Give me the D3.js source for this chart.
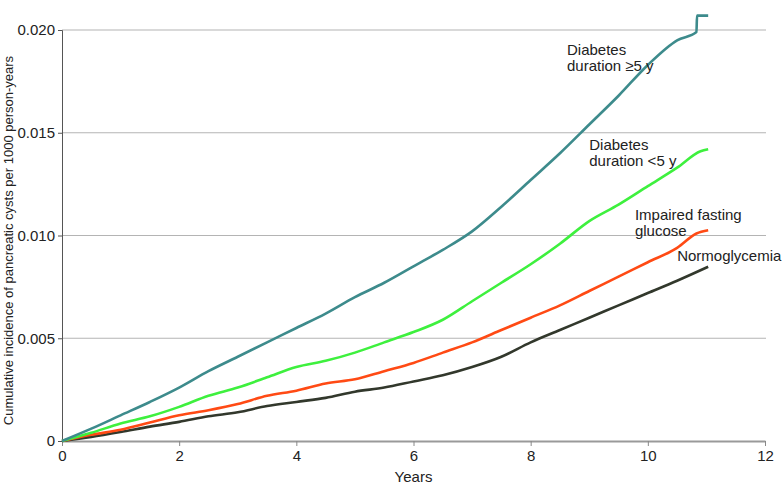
<!DOCTYPE html>
<html>
<head>
<meta charset="utf-8">
<script src="https://cdn.jsdelivr.net/npm/d3@7"></script>
<style>
  body { margin: 0; background: #fff; }
  text { font-family: "Liberation Sans Narrow", "Liberation Sans", Arial, sans-serif; fill: #222; }
</style>
</head>
<body>
<div class="container"></div>
<script>
// data (years vs cumulative incidence)
const years = [0, 0.5, 1, 1.5, 2, 2.5, 3, 3.5, 4, 4.5, 5, 5.5, 6, 6.5, 7, 7.5, 8, 8.5, 9, 9.5, 10, 10.5];

const dm5plus = [0, 0.0006, 0.00125, 0.0019, 0.0026, 0.0034, 0.0041, 0.0048, 0.0055, 0.0062, 0.0070, 0.0077, 0.0085, 0.0093, 0.0102, 0.0114, 0.0127, 0.0140, 0.0154, 0.0168, 0.0183, 0.0195];
const dm5plusTailYears = [10.83, 10.84, 11.03];
const dm5plusTail = [0.0199, 0.0207, 0.0207];

const dmUnder5 = [0, 0.0004, 0.00085, 0.0012, 0.00166, 0.0022, 0.0026, 0.0031, 0.0036, 0.0039, 0.0043, 0.0048, 0.0053, 0.0059, 0.0068, 0.0077, 0.0086, 0.0096, 0.0107, 0.0115, 0.0124, 0.0133];
const dmUnder5TailYears = [10.9, 11.03];
const dmUnder5Tail = [0.0141, 0.0142];

const ifg = [0, 0.0003, 0.00055, 0.0009, 0.00125, 0.0015, 0.0018, 0.0022, 0.00245, 0.0028, 0.0030, 0.0034, 0.0038, 0.0043, 0.0048, 0.0054, 0.0060, 0.0066, 0.0073, 0.0080, 0.0087, 0.0094];
const ifgTailYears = [10.83, 11.03];
const ifgTail = [0.0101, 0.01026];

const normo = [0, 0.0002, 0.00044, 0.0007, 0.00093, 0.0012, 0.0014, 0.0017, 0.0019, 0.0021, 0.0024, 0.0026, 0.0029, 0.0032, 0.0036, 0.0041, 0.0048, 0.0054, 0.0060, 0.0066, 0.0072, 0.0078];
const normoTailYears = [11.03];
const normoTail = [0.00848];

const xTicks = [0, 2, 4, 6, 8, 10, 12];
const yTicks = [0, 0.005, 0.010, 0.015, 0.020];

const seriesNames = ["Diabetes duration ≥5 y", "Diabetes duration <5 y", "Impaired fasting glucose", "Normoglycemia"];
const seriesColors = ["#3d8b8c", "#3ef03e", "#ff4a14", "#32382c"];

// label lines and where they sit (data units)
const labelLines = [["Diabetes", "duration ≥5 y"], ["Diabetes", "duration <5 y"], ["Impaired fasting", "glucose"], ["Normoglycemia"]];
const labelAt = [[8.62, 0.01878], [9.0, 0.01415], [9.78, 0.01077], [10.5, 0.00875]];

const margin = {top: 30, right: 18, bottom: 59, left: 62};
const width = 783 - margin.left - margin.right;
const height = 500 - margin.top - margin.bottom;

const svg = d3.select(".container")
  .append("svg")
    .attr("width", width + margin.left + margin.right)
    .attr("height", height + margin.top + margin.bottom)
  .append("g")
    .attr("transform", "translate(" + margin.left + "," + margin.top + ")");

const x = d3.scaleLinear().domain([0, 12]).range([0, width]);
const y = d3.scaleLinear().domain([0, 0.020]).range([height, 0]);

// gridlines
svg.append("g")
  .selectAll("line")
  .data(yTicks.filter(d => d > 0))
  .enter()
  .append("line")
    .attr("x1", 0)
    .attr("x2", width + 1)
    .attr("y1", d => y(d))
    .attr("y2", d => y(d))
    .attr("stroke", "#b4b4b4")
    .attr("stroke-width", 1.2);

// y axis
const yAxis = svg.append("g")
  .call(d3.axisLeft(y).tickValues(yTicks).tickFormat(d => d === 0 ? "0" : d3.format(".3f")(d)).tickSize(4).tickPadding(3));
yAxis.select(".domain").attr("stroke", "#555");
yAxis.selectAll(".tick line").attr("stroke", "#555");
yAxis.selectAll("text").style("font-size", "15px").attr("fill", "#222");

// x axis
const xAxis = svg.append("g")
  .attr("transform", "translate(0," + height + ")")
  .call(d3.axisBottom(x).tickValues(xTicks).tickSize(5).tickPadding(4).tickSizeOuter(0));
xAxis.select(".domain").attr("stroke", "#9a9a9a").attr("stroke-width", 2);
xAxis.selectAll(".tick line").attr("stroke", "#888");
xAxis.selectAll("text").style("font-size", "15px").attr("fill", "#222");

// axis titles
svg.append("text")
  .attr("x", width / 2)
  .attr("y", height + 41)
  .attr("text-anchor", "middle")
  .style("font-size", "15px")
  .text("Years");

svg.append("text")
  .attr("transform", "translate(" + (-49) + "," + (height / 2 + 5) + ") rotate(-90)")
  .attr("text-anchor", "middle")
  .style("font-size", "13px")
  .text("Cumulative incidence of pancreatic cysts per 1000 person-years");

// curves
const allSeries = [
  years.concat(dm5plusTailYears).map((t, i) => [t, dm5plus.concat(dm5plusTail)[i]]),
  years.concat(dmUnder5TailYears).map((t, i) => [t, dmUnder5.concat(dmUnder5Tail)[i]]),
  years.concat(ifgTailYears).map((t, i) => [t, ifg.concat(ifgTail)[i]]),
  years.concat(normoTailYears).map((t, i) => [t, normo.concat(normoTail)[i]])
];

const line = d3.line()
  .curve(d3.curveMonotoneX)
  .x(d => x(d[0]))
  .y(d => y(d[1]));

svg.append("g")
  .selectAll("path")
  .data(allSeries.slice().reverse())
  .enter()
  .append("path")
    .attr("d", line)
    .attr("fill", "none")
    .attr("stroke", (d, i) => seriesColors.slice().reverse()[i])
    .attr("stroke-width", 2.6)
    .attr("stroke-linejoin", "round");

// labels
labelLines.forEach((lines, i) => {
  const t = svg.append("text")
    .attr("x", x(labelAt[i][0]))
    .attr("y", y(labelAt[i][1]))
    .style("font-size", "15px")
    .attr("aria-label", seriesNames[i]);
  lines.forEach((l, j) => {
    t.append("tspan")
      .attr("x", x(labelAt[i][0]))
      .attr("dy", j === 0 ? 0 : 16)
      .text(l);
  });
});
</script>
</body>
</html>
